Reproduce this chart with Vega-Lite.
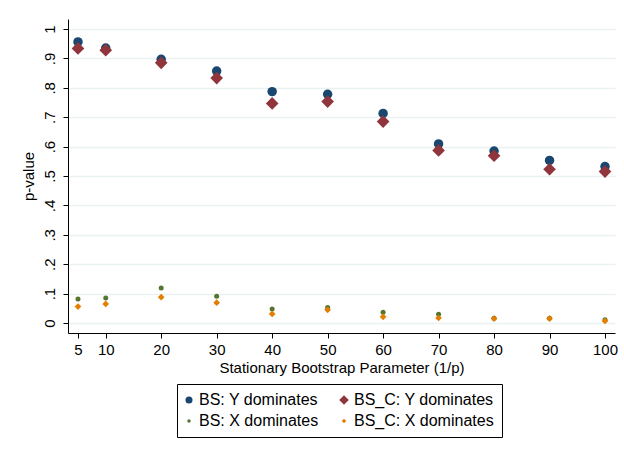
{
  "$schema": "https://vega.github.io/schema/vega-lite/v6.json",
  "width": 547,
  "height": 314,
  "autosize": "none",
  "padding": {"left": 68, "top": 19, "right": 9, "bottom": 118},
  "background": "white",
  "config": {
    "font": "Liberation Sans",
    "view": {"stroke": null}
  },
  "data": {
    "values": [
      {"param": 5, "series": "BS: Y dominates", "p": 0.956},
      {"param": 10, "series": "BS: Y dominates", "p": 0.935},
      {"param": 20, "series": "BS: Y dominates", "p": 0.897},
      {"param": 30, "series": "BS: Y dominates", "p": 0.857},
      {"param": 40, "series": "BS: Y dominates", "p": 0.787},
      {"param": 50, "series": "BS: Y dominates", "p": 0.778},
      {"param": 60, "series": "BS: Y dominates", "p": 0.713},
      {"param": 70, "series": "BS: Y dominates", "p": 0.609},
      {"param": 80, "series": "BS: Y dominates", "p": 0.585},
      {"param": 90, "series": "BS: Y dominates", "p": 0.553},
      {"param": 100, "series": "BS: Y dominates", "p": 0.532},
      {"param": 5, "series": "BS_C: Y dominates", "p": 0.934},
      {"param": 10, "series": "BS_C: Y dominates", "p": 0.928},
      {"param": 20, "series": "BS_C: Y dominates", "p": 0.885},
      {"param": 30, "series": "BS_C: Y dominates", "p": 0.833},
      {"param": 40, "series": "BS_C: Y dominates", "p": 0.747},
      {"param": 50, "series": "BS_C: Y dominates", "p": 0.753},
      {"param": 60, "series": "BS_C: Y dominates", "p": 0.685},
      {"param": 70, "series": "BS_C: Y dominates", "p": 0.587},
      {"param": 80, "series": "BS_C: Y dominates", "p": 0.569},
      {"param": 90, "series": "BS_C: Y dominates", "p": 0.523},
      {"param": 100, "series": "BS_C: Y dominates", "p": 0.515},
      {"param": 5, "series": "BS: X dominates", "p": 0.082},
      {"param": 10, "series": "BS: X dominates", "p": 0.085},
      {"param": 20, "series": "BS: X dominates", "p": 0.119},
      {"param": 30, "series": "BS: X dominates", "p": 0.091},
      {"param": 40, "series": "BS: X dominates", "p": 0.048},
      {"param": 50, "series": "BS: X dominates", "p": 0.053},
      {"param": 60, "series": "BS: X dominates", "p": 0.037},
      {"param": 70, "series": "BS: X dominates", "p": 0.030},
      {"param": 80, "series": "BS: X dominates", "p": 0.016},
      {"param": 90, "series": "BS: X dominates", "p": 0.016},
      {"param": 100, "series": "BS: X dominates", "p": 0.011},
      {"param": 5, "series": "BS_C: X dominates", "p": 0.056},
      {"param": 10, "series": "BS_C: X dominates", "p": 0.065},
      {"param": 20, "series": "BS_C: X dominates", "p": 0.088},
      {"param": 30, "series": "BS_C: X dominates", "p": 0.069},
      {"param": 40, "series": "BS_C: X dominates", "p": 0.031},
      {"param": 50, "series": "BS_C: X dominates", "p": 0.045},
      {"param": 60, "series": "BS_C: X dominates", "p": 0.021},
      {"param": 70, "series": "BS_C: X dominates", "p": 0.017},
      {"param": 80, "series": "BS_C: X dominates", "p": 0.015},
      {"param": 90, "series": "BS_C: X dominates", "p": 0.015},
      {"param": 100, "series": "BS_C: X dominates", "p": 0.007}
    ]
  },
  "encoding": {
    "x": {
      "field": "param",
      "type": "quantitative",
      "scale": {"domain": [3.2, 101.8], "nice": false, "zero": false},
      "axis": {
        "values": [5, 10, 20, 30, 40, 50, 60, 70, 80, 90, 100],
        "title": "Stationary Bootstrap Parameter (1/p)",
        "titleFontSize": 15,
        "titleFontWeight": "normal",
        "titleColor": "#000",
        "titlePadding": 3,
        "labelFontSize": 15,
        "labelColor": "#000",
        "labelPadding": 4,
        "labelFlush": false,
        "labelOverlap": false,
        "grid": false,
        "domainColor": "#000",
        "tickColor": "#000",
        "tickSize": 5
      }
    },
    "y": {
      "field": "p",
      "type": "quantitative",
      "scale": {"domain": [-0.034, 1.034], "nice": false, "zero": false},
      "axis": {
        "values": [0, 0.1, 0.2, 0.3, 0.4, 0.5, 0.6, 0.7, 0.8, 0.9, 1],
        "labelExpr": "datum.value == 0 ? '0' : datum.value == 1 ? '1' : replace(format(datum.value, '.1f'), '0.', '.')",
        "labelAngle": -90,
        "labelAlign": "center",
        "labelBaseline": "bottom",
        "labelFontSize": 15,
        "labelColor": "#000",
        "labelPadding": 6,
        "labelFlush": false,
        "labelOverlap": false,
        "title": "p-value",
        "titleFontSize": 15,
        "titleFontWeight": "normal",
        "titleColor": "#000",
        "titlePadding": 6,
        "grid": true,
        "gridColor": "#eaf2f3",
        "gridWidth": 1.5,
        "domainColor": "#000",
        "tickColor": "#000",
        "tickSize": 5
      }
    }
  },
  "layer": [
    {
      "transform": [{"filter": "datum.p > 5"}],
      "mark": {"type": "point", "filled": true, "opacity": 1, "strokeWidth": 0},
      "encoding": {
        "color": {
          "field": "series",
          "type": "nominal",
          "scale": {
            "domain": ["BS: Y dominates", "BS_C: Y dominates", "BS: X dominates", "BS_C: X dominates"],
            "range": ["#1a476f", "#90353b", "#55752f", "#e37e00"]
          },
          "legend": {
            "title": null,
            "orient": "none",
            "direction": "horizontal",
            "legendX": 109,
            "legendY": 365,
            "columns": 2,
            "columnPadding": 20,
            "rowPadding": 5,
            "labelFontSize": 16,
            "labelColor": "#000",
            "labelOffset": 2,
            "symbolOffset": -4,
            "strokeColor": "#000",
            "padding": 8,
            "symbolStrokeWidth": 0
          }
        },
        "shape": {
          "field": "series",
          "type": "nominal",
          "scale": {
            "domain": ["BS: Y dominates", "BS_C: Y dominates", "BS: X dominates", "BS_C: X dominates"],
            "range": ["circle", "diamond", "circle", "diamond"]
          }
        },
        "size": {
          "field": "series",
          "type": "nominal",
          "scale": {
            "type": "ordinal",
            "domain": ["BS: Y dominates", "BS_C: Y dominates", "BS: X dominates", "BS_C: X dominates"],
            "range": [50, 90, 12, 20]
          }
        }
      }
    },
    {
      "mark": {"type": "point", "filled": true, "opacity": 1, "strokeWidth": 0},
      "encoding": {
        "color": {"field": "series", "type": "nominal", "legend": null},
        "shape": {"field": "series", "type": "nominal", "legend": null},
        "size": {
          "field": "series",
          "type": "nominal",
          "legend": null,
          "scale": {
            "type": "ordinal",
            "domain": ["BS: Y dominates", "BS_C: Y dominates", "BS: X dominates", "BS_C: X dominates"],
            "range": [90, 160, 25, 45]
          }
        }
      }
    }
  ],
  "resolve": {
    "scale": {"size": "independent"},
    "legend": {"size": "independent", "color": "independent", "shape": "independent"}
  }
}
